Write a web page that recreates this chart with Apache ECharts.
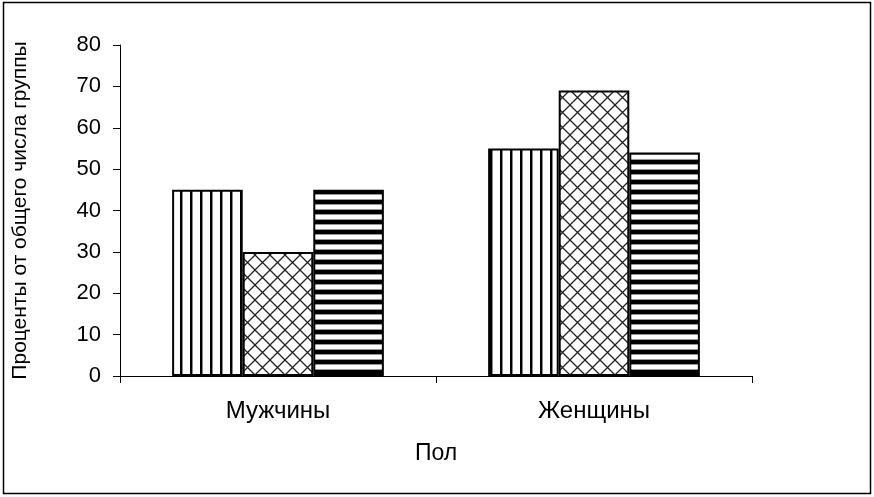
<!DOCTYPE html>
<html><head><meta charset="utf-8">
<script src="https://cdn.jsdelivr.net/npm/echarts@6/dist/echarts.min.js"></script>
<style>html,body{margin:0;padding:0;background:#fff}#c{width:874px;height:497px}</style>
</head><body><div id="c"></div>
<script>
const categories = ['Мужчины', 'Женщины'];
const series1 = [45, 55];
const series2 = [30, 69];
const series3 = [45, 54];
const yTicks = [0, 10, 20, 30, 40, 50, 60, 70, 80];

function makeCanvas(w, h, draw) {
  const c = document.createElement('canvas');
  c.width = w; c.height = h;
  const g = c.getContext('2d');
  g.fillStyle = '#fff'; g.fillRect(0, 0, w, h);
  draw(g);
  return c;
}
const vStripe = makeCanvas(10, 10, g => {
  g.fillStyle = '#000'; g.fillRect(0, 0, 2, 10);
  g.fillStyle = '#888'; g.fillRect(2, 0, 1, 10);
});
const hStripe = makeCanvas(10, 10, g => {
  g.fillStyle = '#000'; g.fillRect(0, 0, 10, 4);
  g.fillStyle = '#999'; g.fillRect(0, 4, 10, 1); g.fillRect(0, 9, 10, 1);
});
const cross = makeCanvas(15, 15, g => {
  g.strokeStyle = '#222'; g.lineWidth = 1.3;
  g.beginPath();
  g.moveTo(-1, -1); g.lineTo(16, 16);
  g.moveTo(16, -1); g.lineTo(-1, 16);
  g.stroke();
});

const chart = echarts.init(document.getElementById('c'), null, {renderer: 'canvas'});
const txt = {fontFamily: 'Arial, "Liberation Sans", sans-serif', color: '#000'};
function bar(name, data, img) {
  return {
    name, type: 'bar', data, barGap: '0%', barCategoryGap: '33%',
    itemStyle: {color: {image: img, repeat: 'repeat'}, borderColor: '#000', borderWidth: 2},
    emphasis: {disabled: true}, animation: false
  };
}
chart.setOption({
  animation: false,
  graphic: [{type: 'rect', shape: {x: 3.5, y: 2.5, width: 867, height: 491},
    style: {fill: 'none', stroke: '#000', lineWidth: 1.5}, silent: true}],
  grid: {left: 120, top: 45, right: 122, bottom: 121},
  xAxis: {
    type: 'category', data: categories,
    name: 'Пол', nameLocation: 'middle', nameGap: 66,
    nameTextStyle: Object.assign({fontSize: 23}, txt),
    axisLine: {lineStyle: {color: '#000', width: 1}},
    axisTick: {show: true, length: 7, lineStyle: {color: '#000'}},
    axisLabel: Object.assign({fontSize: 24, margin: 23}, txt),
    splitLine: {show: false}
  },
  yAxis: {
    type: 'value', min: 0, max: 80, interval: 10,
    name: 'Проценты от общего числа группы', nameLocation: 'middle', nameGap: 89,
    nameRotate: 90,
    nameTextStyle: Object.assign({fontSize: 21}, txt),
    axisLine: {show: true, lineStyle: {color: '#000', width: 1}},
    axisTick: {show: true, length: 7, lineStyle: {color: '#000'}},
    axisLabel: Object.assign({fontSize: 22, margin: 19,
      formatter: v => yTicks.includes(v) ? String(v) : ''}, txt),
    splitLine: {show: false}
  },
  series: [bar('s1', series1, vStripe), bar('s2', series2, cross), bar('s3', series3, hStripe)]
});
</script></body></html>
